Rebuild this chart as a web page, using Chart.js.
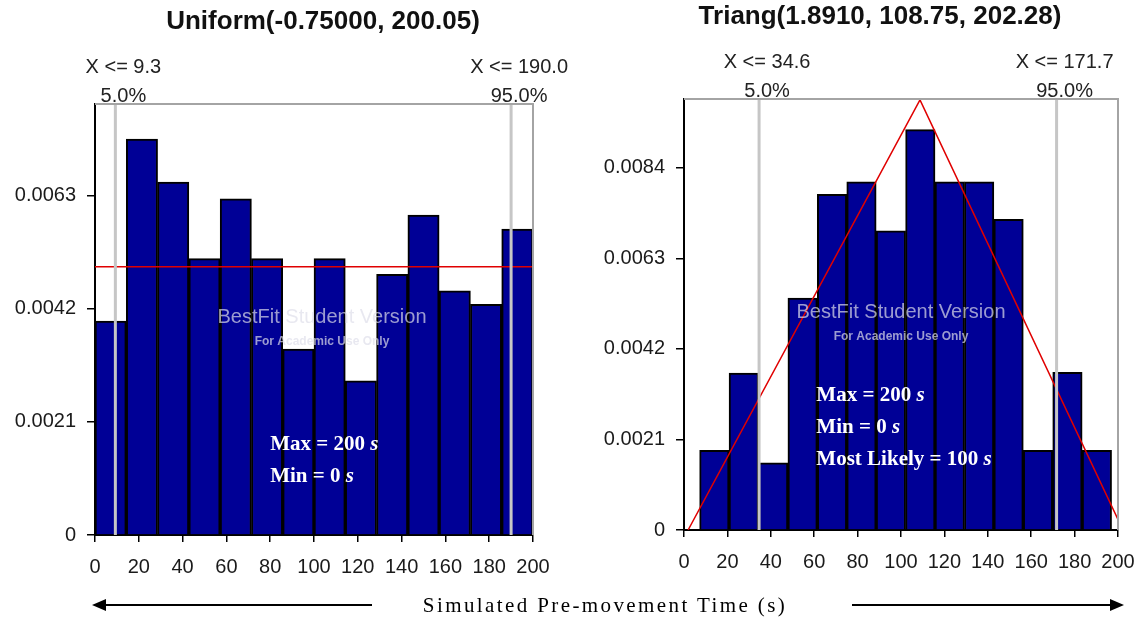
<!DOCTYPE html>
<html>
<head>
<meta charset="utf-8">
<title>Simulated pre-movement time</title>
<script src="https://cdn.jsdelivr.net/npm/chart.js@4.4.1/dist/chart.umd.min.js"></script>
<style>
  html, body { margin: 0; padding: 0; background: #fff; }
  #page { position: relative; width: 1142px; height: 624px; overflow: hidden; }
  .panel { position: absolute; top: 0; }
  #leftPanel { left: 0; }
  #rightPanel { left: 571px; }
  #arrows { position: absolute; left: 0; top: 0; pointer-events: none; }
  #xTitle {
    position: absolute; left: 605px; top: 593px; transform: translateX(-50%);
    white-space: nowrap; font: 21px "Liberation Serif", "Times New Roman", serif;
    letter-spacing: 2.4px; color: #000;
  }
</style>
</head>
<body>
<div id="page">
  <div class="panel" id="leftPanel"><canvas id="uniformChart" width="590" height="624"></canvas></div>
  <div class="panel" id="rightPanel"><canvas id="triangChart" width="571" height="624"></canvas></div>
  <svg id="arrows" width="1142" height="624">
    <line x1="372" y1="605" x2="104" y2="605" stroke="#000" stroke-width="2"/>
    <polygon points="92,605 106,599 106,611" fill="#000"/>
    <line x1="852" y1="605" x2="1112" y2="605" stroke="#000" stroke-width="2"/>
    <polygon points="1124,605 1110,599 1110,611" fill="#000"/>
  </svg>
  <div id="xTitle">Simulated Pre-movement Time (s)</div>
</div>

<script>
// ---- data ----
const xTicks = [0, 20, 40, 60, 80, 100, 120, 140, 160, 180, 200];

// Uniform fit: histogram bins (edges) and density per bin
const uniformEdges = [0, 14.29, 28.57, 42.86, 57.14, 71.43, 85.71, 100, 114.29, 128.57, 142.86, 157.14, 171.43, 185.71, 200];
const uniformDensity = [0.00397, 0.00735, 0.00655, 0.00513, 0.00624, 0.00513, 0.00345, 0.00513, 0.00286, 0.00484, 0.00594, 0.00453, 0.00428, 0.00568];
const uniformFitX = [-0.75, 200.05];
const uniformFitY = [0.00498, 0.00498];
const uniformPctValues = [9.3, 190.0];
const uniformPctLabels = ['5.0%', '95.0%'];
const uniformYTicks = [0, 0.0021, 0.0042, 0.0063];
const uniformNotes = ['Max = 200 s', 'Min = 0 s'];

// Triangular fit
const triangEdges = [7.2, 20.76, 34.32, 47.88, 61.44, 75.0, 88.56, 102.12, 115.68, 129.24, 142.8, 156.36, 169.92, 183.48, 197.04];
const triangDensity = [0.00185, 0.00364, 0.00156, 0.00538, 0.00779, 0.00808, 0.00694, 0.00929, 0.00808, 0.00808, 0.00721, 0.00185, 0.00366, 0.00185];
const triangFitX = [1.891, 108.75, 202.28];
const triangFitY = [0, 0.00998, 0];
const triangPctValues = [34.6, 171.7];
const triangPctLabels = ['5.0%', '95.0%'];
const triangYTicks = [0, 0.0021, 0.0042, 0.0063, 0.0084];
const triangNotes = ['Max = 200 s', 'Min = 0 s', 'Most Likely = 100 s'];

const SANS = '"Liberation Sans", Arial, sans-serif';
const SERIF = '"Liberation Serif", "Times New Roman", serif';

Chart.defaults.font.family = SANS;
Chart.defaults.color = '#1a1a1a';

// Titles, percentile markers, frame, watermark and notes
const decorations = {
  id: 'decorations',
  afterDatasetsDraw(chart, args, opts) {
    const { ctx, chartArea: a, scales: { x, y } } = chart;
    ctx.save();

    // percentile markers
    ctx.strokeStyle = '#c6c6c6';
    ctx.lineWidth = 3;
    opts.pctValues.forEach(v => {
      const px = x.getPixelForValue(v);
      ctx.beginPath();
      ctx.moveTo(px, a.top);
      ctx.lineTo(px, a.bottom);
      ctx.stroke();
    });

    // watermark
    const wx = x.getPixelForValue(100) + opts.markShift;
    ctx.textAlign = 'center';
    ctx.textBaseline = 'middle';
    ctx.fillStyle = 'rgba(222, 222, 234, 0.7)';
    ctx.font = '20px ' + SANS;
    ctx.fillText('BestFit Student Version', wx, a.top + 213);
    ctx.font = 'bold 12px ' + SANS;
    ctx.fillText('For Academic Use Only', wx, a.top + 238);

    // notes (the unit is set in italic)
    ctx.textAlign = 'left';
    ctx.fillStyle = '#ffffff';
    const nx = x.getPixelForValue(opts.noteAt.x);
    const ny = y.getPixelForValue(opts.noteAt.y);
    opts.notes.forEach((line, i) => {
      const head = line.slice(0, -1);
      ctx.font = 'bold 21px ' + SERIF;
      ctx.fillText(head, nx, ny + i * 32);
      const w = ctx.measureText(head).width;
      ctx.font = 'italic bold 21px ' + SERIF;
      ctx.fillText('s', nx + w, ny + i * 32);
    });
    ctx.restore();
  },
  afterDraw(chart, args, opts) {
    const { ctx, chartArea: a, scales: { x } } = chart;
    ctx.save();

    // frame top and right
    ctx.strokeStyle = '#a4a4a4';
    ctx.lineWidth = 2;
    ctx.beginPath();
    ctx.moveTo(a.left, a.top);
    ctx.lineTo(a.right, a.top);
    ctx.lineTo(a.right, a.bottom);
    ctx.stroke();

    // title
    ctx.fillStyle = '#111';
    ctx.textAlign = 'center';
    ctx.textBaseline = 'middle';
    ctx.font = 'bold 26px ' + SANS;
    ctx.fillText(opts.title, opts.titleX, a.top - 82);

    // percentile labels
    ctx.font = '20px ' + SANS;
    ctx.fillStyle = '#222';
    opts.pctValues.forEach((v, i) => {
      const px = x.getPixelForValue(v) + 8;
      ctx.fillText('X <= ' + v.toFixed(1), px, a.top - 37);
      ctx.fillText(opts.pctLabels[i], px, a.top - 8);
    });
    ctx.restore();
  }
};

function createHistogram(canvasId, cfg) {
  const centers = cfg.edges.slice(0, -1).map((e, i) => (e + cfg.edges[i + 1]) / 2);

  return new Chart(document.getElementById(canvasId), {
    type: 'bar',
    data: {
      datasets: [
        {
          type: 'line',
          data: cfg.fitX.map((v, i) => ({ x: v, y: cfg.fitY[i] })),
          borderColor: '#e00000',
          borderWidth: 1.5,
          pointRadius: 0,
          fill: false,
          tension: 0,
          order: 0
        },
        {
          type: 'bar',
          data: centers.map((v, i) => ({ x: v, y: cfg.density[i] })),
          backgroundColor: '#000096',
          borderColor: '#000000',
          borderWidth: 2,
          barPercentage: 1,
          categoryPercentage: 1,
          order: 1
        }
      ]
    },
    options: {
      responsive: false,
      animation: false,
      devicePixelRatio: 1,
      layout: { padding: cfg.padding },
      plugins: {
        legend: { display: false },
        tooltip: { enabled: false },
        decorations: {
          title: cfg.title,
          titleX: cfg.titleX,
          pctValues: cfg.pctValues,
          pctLabels: cfg.pctLabels,
          notes: cfg.notes,
          noteAt: cfg.noteAt,
          markShift: cfg.markShift
        }
      },
      scales: {
        x: {
          type: 'linear',
          min: 0,
          max: 200,
          offset: false,
          afterBuildTicks: (s) => { s.ticks = xTicks.map(v => ({ value: v })); },
          afterFit: (s) => { s.height = 40; s.paddingLeft = 0; s.paddingRight = 0; },
          grid: { drawOnChartArea: false, offset: false, tickLength: 7, color: '#000', lineWidth: 1.5 },
          border: { color: '#000', width: 2 },
          ticks: { font: { size: 20 }, padding: 13, maxRotation: 0, autoSkip: false }
        },
        y: {
          min: 0,
          max: cfg.yMax,
          afterBuildTicks: (s) => { s.ticks = cfg.yTicks.map(v => ({ value: v })); },
          afterFit: (s) => { s.width = cfg.axisWidth; s.paddingTop = 0; s.paddingBottom = 0; },
          grid: { drawOnChartArea: false, tickLength: 8, color: '#000', lineWidth: 1.5 },
          border: { color: '#000', width: 2 },
          ticks: {
            font: { size: 20 },
            padding: 11,
            callback: (v) => (v === 0 ? '0' : v.toFixed(4))
          }
        }
      }
    },
    plugins: [decorations]
  });
}

createHistogram('uniformChart', {
  title: 'Uniform(-0.75000, 200.05)',
  titleX: 323,
  edges: uniformEdges,
  density: uniformDensity,
  fitX: uniformFitX,
  fitY: uniformFitY,
  pctValues: uniformPctValues,
  pctLabels: uniformPctLabels,
  yTicks: uniformYTicks,
  yMax: 0.0080,
  notes: uniformNotes,
  noteAt: { x: 80, y: 0.00167 },
  markShift: 8,
  axisWidth: 95,
  padding: { left: 0, right: 57, top: 104, bottom: 49 }
});

createHistogram('triangChart', {
  title: 'Triang(1.8910, 108.75, 202.28)',
  titleX: 309,
  edges: triangEdges,
  density: triangDensity,
  fitX: triangFitX,
  fitY: triangFitY,
  pctValues: triangPctValues,
  pctLabels: triangPctLabels,
  yTicks: triangYTicks,
  yMax: 0.0100,
  notes: triangNotes,
  noteAt: { x: 61, y: 0.00311 },
  markShift: 0,
  axisWidth: 113,
  padding: { left: 0, right: 24, top: 99, bottom: 54 }
});
</script>
</body>
</html>
